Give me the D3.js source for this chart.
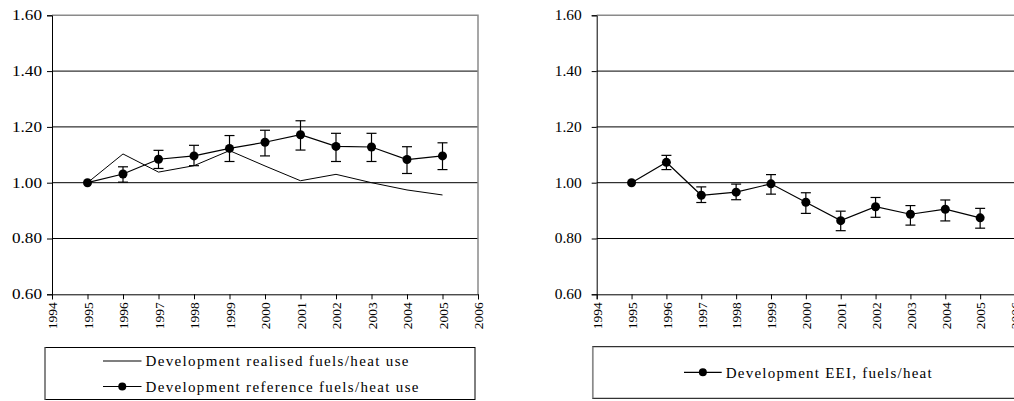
<!DOCTYPE html>
<html>
<head>
<meta charset="utf-8">
<script src="https://cdn.jsdelivr.net/npm/d3@7"></script>
<style>
  body { margin: 0; background: #fff; }
  svg { display: block; }
  svg text { font-family: "Liberation Serif", "DejaVu Serif", serif !important; }
</style>
</head>
<body>
<div id="chart"></div>
<script>
const years = [1995, 1996, 1997, 1998, 1999, 2000, 2001, 2002, 2003, 2004, 2005];
const yearTicks = [1994, 1995, 1996, 1997, 1998, 1999, 2000, 2001, 2002, 2003, 2004, 2005, 2006];
const valueTicks = [0.6, 0.8, 1.0, 1.2, 1.4, 1.6];

// left panel
const realised = [1.00, 1.103, 1.038, 1.061, 1.115, 1.06, 1.007, 1.03, 1.00, 0.974, 0.956];
const reference = [1.00, 1.031, 1.084, 1.096, 1.123, 1.145, 1.172, 1.130, 1.128, 1.083, 1.096];
const referenceHigh = [null, 1.057, 1.116, 1.134, 1.169, 1.188, 1.222, 1.177, 1.177, 1.129, 1.143];
const referenceLow = [null, 1.002, 1.051, 1.061, 1.076, 1.096, 1.117, 1.076, 1.076, 1.033, 1.047];

// right panel
const eei = [1.00, 1.073, 0.955, 0.966, 0.996, 0.930, 0.864, 0.914, 0.887, 0.905, 0.874];
const eeiHigh = [null, 1.098, 0.985, 0.995, 1.029, 0.964, 0.898, 0.947, 0.918, 0.938, 0.908];
const eeiLow = [null, 1.047, 0.929, 0.939, 0.959, 0.890, 0.828, 0.876, 0.848, 0.863, 0.837];

const legendLeft = ["Development realised fuels/heat use", "Development reference fuels/heat use"];
const legendRight = ["Development EEI, fuels/heat"];

const W = 1014, H = 401;
const svg = d3.select("#chart").append("svg")
    .attr("width", W)
    .attr("height", H);

function drawPanel(p) {
    const x = d3.scaleLinear().domain([1994, 2006]).range([p.x0, p.x1]);
    const y = d3.scaleLinear().domain([0.6, 1.6]).range([294.3, 15.3]);
    const g = svg.append("g");

    // grid lines
    g.selectAll(".grid")
        .data(valueTicks.filter(v => v > 0.6 && v < 1.6))
        .enter().append("line")
        .attr("x1", p.x0).attr("x2", p.x1)
        .attr("y1", d => y(d)).attr("y2", d => y(d))
        .attr("stroke", "#000").attr("stroke-width", 1);

    // plot frame (top + right grey)
    g.append("path")
        .attr("d", `M${p.x0},${y(1.6)}H${p.x1}V${y(0.6)}`)
        .attr("fill", "none").attr("stroke", "#8a8a8a").attr("stroke-width", 1.5);

    // y axis
    const ya = g.append("g")
        .attr("transform", `translate(${p.x0},0)`)
        .call(d3.axisLeft(y).tickValues(valueTicks).tickSize(5).tickFormat(d3.format(".2f")));
    ya.select(".domain").attr("stroke", "#000");
    ya.selectAll("text")
        .style("font-size", "14px")
        .attr("fill", "#000")
        .attr("x", -p.labelGap)
        .attr("textLength", p.labelWidth)
        .attr("lengthAdjust", "spacingAndGlyphs");

    // x axis
    const xa = g.append("g")
        .attr("transform", `translate(0,${y(0.6)})`)
        .call(d3.axisBottom(x).tickValues(yearTicks).tickSize(5).tickFormat(d3.format("d")));
    xa.select(".domain").attr("stroke", "#000");
    xa.selectAll("text")
        .style("font-size", "13.5px")
        .attr("fill", "#000")
        .attr("transform", "rotate(-90)")
        .attr("text-anchor", "end")
        .attr("x", -8)
        .attr("y", 0)
        .attr("dy", "0.35em")
        .attr("textLength", 27)
        .attr("lengthAdjust", "spacingAndGlyphs");

    // plain line
    if (p.plain) {
        g.append("path")
            .datum(years.map((yr, i) => [yr, p.plain[i]]))
            .attr("fill", "none").attr("stroke", "#000").attr("stroke-width", 1)
            .attr("d", d3.line().x(d => x(d[0])).y(d => y(d[1])));
    }

    // marker line
    const pts = years.map((yr, i) => ({ yr, v: p.values[i], hi: p.high[i], lo: p.low[i] }));
    g.append("path")
        .datum(pts)
        .attr("fill", "none").attr("stroke", "#000").attr("stroke-width", 1.2)
        .attr("d", d3.line().x(d => x(d.yr)).y(d => y(d.v)));

    const eb = g.selectAll(".err").data(pts.filter(d => d.hi != null)).enter().append("g");
    eb.append("line")
        .attr("x1", d => x(d.yr)).attr("x2", d => x(d.yr))
        .attr("y1", d => y(d.hi)).attr("y2", d => y(d.lo))
        .attr("stroke", "#000").attr("stroke-width", 1.2);
    eb.append("line")
        .attr("x1", d => x(d.yr) - 5).attr("x2", d => x(d.yr) + 5)
        .attr("y1", d => y(d.hi)).attr("y2", d => y(d.hi))
        .attr("stroke", "#000").attr("stroke-width", 1.2);
    eb.append("line")
        .attr("x1", d => x(d.yr) - 5).attr("x2", d => x(d.yr) + 5)
        .attr("y1", d => y(d.lo)).attr("y2", d => y(d.lo))
        .attr("stroke", "#000").attr("stroke-width", 1.2);

    g.selectAll(".dot").data(pts).enter().append("circle")
        .attr("cx", d => x(d.yr)).attr("cy", d => y(d.v))
        .attr("r", 4.5).attr("fill", "#000");

    // legend box
    const lg = svg.append("g");
    lg.append("rect")
        .attr("x", p.legend.x).attr("y", p.legend.y)
        .attr("width", p.legend.w).attr("height", p.legend.h)
        .attr("fill", "#fff").attr("stroke", "#000").attr("stroke-width", 1);
    lg.append("path")
        .attr("d", `M${p.legend.x},${p.legend.y}V${p.legend.y + p.legend.h}`)
        .attr("stroke", "#8a8a8a").attr("stroke-width", 1.5);

    p.legend.items.forEach((it, i) => {
        const cy = p.legend.rows[i];
        lg.append("line")
            .attr("x1", it.lx0).attr("x2", it.lx1)
            .attr("y1", cy).attr("y2", cy)
            .attr("stroke", "#000").attr("stroke-width", 1.2);
        if (it.marker) {
            lg.append("circle")
                .attr("cx", (it.lx0 + it.lx1) / 2).attr("cy", cy)
                .attr("r", 4).attr("fill", "#000");
        }
        lg.append("text")
            .attr("x", it.lx1 + 4).attr("y", cy)
            .attr("dy", "0.35em")
            .style("font-size", "15px")
            .attr("fill", "#000")
            .attr("textLength", it.len)
            .attr("lengthAdjust", "spacing")
            .text(it.label);
    });
}

drawPanel({
    x0: 52, x1: 478, labelGap: 10, labelWidth: 30,
    plain: realised,
    values: reference, high: referenceHigh, low: referenceLow,
    legend: {
        x: 45, y: 347.5, w: 430, h: 52,
        rows: [361, 386.5],
        items: [
            { label: legendLeft[0], lx0: 103, lx1: 141.5, marker: false, len: 263 },
            { label: legendLeft[1], lx0: 103, lx1: 141.5, marker: true, len: 273 }
        ]
    }
});

drawPanel({
    x0: 596.7, x1: 1015, labelGap: 15, labelWidth: 27,
    values: eei, high: eeiHigh, low: eeiLow,
    legend: {
        x: 592.7, y: 346.7, w: 430, h: 51.6,
        rows: [372.3],
        items: [
            { label: legendRight[0], lx0: 684, lx1: 721.7, marker: true, len: 206 }
        ]
    }
});
</script>
</body>
</html>
